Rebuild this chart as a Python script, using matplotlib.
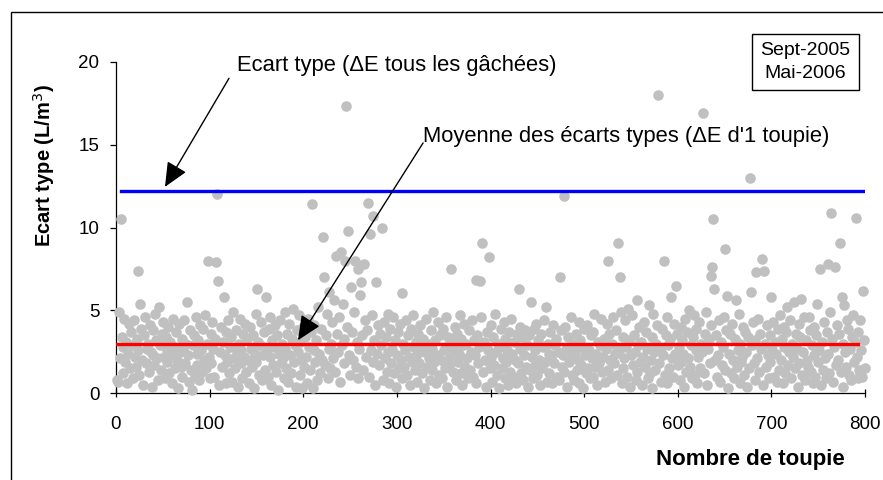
import numpy as np
import matplotlib.pyplot as plt
from matplotlib.patches import Rectangle

plt.rcParams['font.family'] = ['Liberation Sans', 'DejaVu Sans']

# Ecart type (L/m3) of each toupie, toupie n° 1 to 800
ecart = [
    0.8, 0.7, 4.9, 2.1, 10.5, 3.4, 1.2, 2.8, 4.5, 1.9,
    3.1, 0.6, 2.4, 4.2, 1.5, 3.7, 2.9, 0.9, 4.4, 2.2,
    1.6, 3.3, 7.4, 2.6, 1.1, 5.4, 3.9, 2.0, 0.5, 3.5,
    4.6, 1.8, 2.7, 3.0, 1.3, 4.1, 2.5, 0.4, 3.8, 2.3,
    1.7, 4.8, 3.2, 2.1, 0.8, 5.2, 2.9, 1.4, 3.6, 4.3,
    2.2, 0.9, 3.4, 1.9, 2.6, 4.0, 1.2, 3.1, 2.4, 0.6,
    4.5, 2.8, 1.5, 3.7, 2.0, 0.3, 4.2, 2.5, 1.6, 3.3,
    1.0, 2.7, 4.4, 1.8, 3.0, 5.5, 2.3, 0.7, 3.8, 1.4,
    0.2, 2.9, 3.5, 1.1, 4.6, 2.4, 1.7, 3.2, 0.8, 4.1,
    2.6, 1.3, 3.9, 2.0, 4.7, 1.5, 3.0, 7.95, 2.2, 0.9,
    3.6, 1.8, 4.3, 2.7, 1.0, 3.3, 7.9, 12.0, 6.8, 0.5,
    2.5, 4.0, 1.6, 3.1, 5.8, 2.3, 0.6, 3.7, 1.9, 4.4,
    1.2, 2.8, 3.4, 0.7, 4.9, 2.1, 1.5, 3.8, 2.5, 0.4,
    3.0, 4.5, 1.8, 2.6, 0.9, 3.6, 2.2, 4.2, 1.3, 3.3,
    2.0, 0.6, 4.0, 2.7, 1.6, 3.5, 0.3, 2.4, 4.8, 1.9,
    6.3, 3.1, 1.1, 2.9, 4.3, 0.8, 2.3, 3.7, 1.4, 5.8,
    2.6, 1.0, 3.9, 2.2, 4.6, 0.5, 3.2, 1.7, 2.8, 4.1,
    1.3, 3.5, 0.2, 2.4, 4.4, 1.8, 3.0, 2.1, 0.9, 4.9,
    2.7, 1.5, 3.6, 0.7, 4.2, 2.3, 1.2, 3.3, 5.1, 1.9,
    2.9, 0.4, 3.8, 2.5, 4.7, 1.1, 3.1, 2.0, 0.3, 4.0,
    1.6, 3.4, 2.2, 0.6, 4.5, 2.8, 1.4, 3.7, 11.4, 0.3,
    2.6, 4.1, 1.9, 3.2, 0.8, 5.2, 2.4, 1.2, 3.9, 2.0,
    9.4, 7.0, 1.7, 3.5, 4.8, 0.9, 2.7, 6.1, 1.5, 3.0,
    4.3, 2.1, 5.6, 1.3, 8.3, 3.6, 2.5, 4.6, 0.7, 8.5,
    2.9, 5.4, 1.8, 3.3, 8.0, 17.3, 4.0, 9.8, 2.3, 1.1,
    6.4, 3.7, 2.0, 4.9, 8.0, 1.6, 3.1, 7.5, 0.9, 2.7,
    5.9, 6.7, 3.5, 1.4, 7.8, 4.4, 2.2, 3.8, 11.5, 1.0,
    9.6, 2.6, 4.7, 1.9, 10.7, 3.2, 0.5, 6.7, 2.4, 4.1,
    1.7, 3.6, 2.9, 10.0, 0.8, 4.3, 2.1, 3.4, 1.3, 4.8,
    2.5, 0.6, 3.9, 1.8, 2.7, 4.6, 1.2, 3.2, 0.4, 2.3,
    3.7, 1.5, 4.2, 2.0, 0.9, 6.05, 3.0, 1.6, 2.6, 4.4,
    1.1, 3.5, 2.2, 0.5, 3.9, 1.9, 4.7, 2.8, 1.4, 3.1,
    2.4, 0.7, 3.6, 1.8, 4.1, 2.9, 1.2, 3.3, 0.3, 2.5,
    4.5, 1.6, 3.0, 2.1, 0.8, 3.8, 1.4, 2.7, 4.9, 1.9,
    3.2, 0.6, 2.3, 4.3, 1.1, 3.5, 2.0, 0.9, 3.9, 2.6,
    1.5, 4.6, 2.8, 0.4, 3.4, 1.7, 2.2, 7.5, 3.1, 1.3,
    2.7, 4.0, 0.8, 3.6, 1.9, 2.4, 4.7, 1.2, 3.3, 0.5,
    2.9, 4.2, 1.6, 3.0, 2.1, 0.9, 3.8, 1.4, 2.5, 4.4,
    1.0, 3.2, 2.3, 0.6, 6.85, 3.5, 1.8, 2.8, 6.8, 4.6,
    9.05, 1.3, 3.1, 2.0, 0.4, 3.7, 2.6, 8.2, 1.5, 4.1,
    2.2, 0.7, 3.4, 1.7, 4.8, 2.5, 1.1, 3.0, 0.3, 2.8,
    3.9, 1.5, 2.1, 4.3, 0.9, 3.3, 1.9, 2.6, 0.5, 3.7,
    1.3, 4.5, 2.4, 1.0, 3.1, 2.0, 0.6, 3.6, 1.8, 6.3,
    2.7, 4.0, 1.2, 3.4, 0.8, 2.3, 3.8, 1.6, 2.9, 0.4,
    3.5, 1.4, 5.5, 2.2, 0.9, 3.9, 1.7, 2.6, 4.2, 1.1,
    3.2, 2.0, 0.5, 3.6, 1.5, 2.8, 4.4, 1.9, 5.2, 0.7,
    3.0, 2.4, 1.2, 3.7, 2.1, 0.6, 4.1, 1.8, 2.9, 3.3,
    1.0, 2.5, 0.8, 7.0, 3.8, 1.6, 2.3, 11.9, 1.3, 4.0,
    2.7, 0.4, 3.4, 1.9, 2.2, 4.6, 1.1, 3.0, 0.8, 2.5,
    3.6, 1.4, 2.0, 4.3, 0.6, 3.2, 1.7, 2.8, 0.3, 3.9,
    2.3, 1.2, 4.1, 1.5, 2.6, 0.9, 3.5, 2.1, 1.0, 3.7,
    4.8, 1.6, 2.4, 0.5, 3.1, 1.8, 2.9, 4.5, 1.3, 2.2,
    3.3, 0.7, 2.7, 4.2, 8.0, 1.4, 3.6, 2.0, 0.9, 3.0,
    4.6, 1.8, 2.4, 3.8, 1.1, 9.05, 2.6, 7.0, 4.9, 0.6,
    3.4, 1.5, 2.1, 4.4, 2.8, 1.0, 5.1, 3.2, 0.4, 2.3,
    4.7, 1.7, 3.5, 2.5, 0.8, 5.6, 1.3, 2.9, 4.0, 1.9,
    3.1, 0.5, 2.2, 4.3, 1.6, 3.7, 2.7, 0.9, 5.3, 1.2,
    2.0, 3.4, 0.3, 4.8, 2.5, 1.4, 3.0, 4.1, 18.0, 1.8,
    2.6, 0.7, 3.9, 2.3, 8.0, 1.1, 3.5, 4.6, 0.6, 2.9,
    1.5, 3.3, 5.8, 2.1, 1.0, 4.2, 2.4, 6.5, 3.6, 1.7,
    2.8, 0.8, 4.0, 1.9, 3.2, 2.4, 0.4, 4.5, 1.3, 3.7,
    2.1, 5.0, 1.6, 2.9, 0.9, 3.4, 4.7, 1.1, 2.6, 3.9,
    0.6, 2.2, 4.3, 1.5, 3.0, 2.5, 16.9, 1.2, 3.6, 4.9,
    0.5, 2.7, 3.3, 1.8, 4.1, 7.1, 7.6, 10.5, 6.3, 2.0,
    3.5, 1.0, 2.3, 4.4, 0.7, 3.1, 1.7, 2.8, 4.6, 1.4,
    8.7, 3.8, 5.85, 0.3, 2.4, 3.6, 1.2, 4.2, 2.0, 0.9,
    3.3, 5.6, 1.6, 2.6, 4.8, 0.6, 3.0, 1.9, 2.2, 4.0,
    1.1, 3.7, 2.5, 0.4, 3.4, 1.5, 13.0, 6.1, 2.9, 4.3,
    1.8, 3.2, 0.8, 7.3, 2.1, 4.5, 1.3, 3.6, 2.7, 8.1,
    0.5, 7.4, 3.0, 1.6, 4.1, 2.3, 0.9, 3.5, 1.9, 5.8,
    2.6, 4.3, 1.0, 3.1, 2.4, 0.7, 3.9, 1.4, 4.7, 2.0,
    3.3, 0.6, 2.8, 4.0, 1.2, 3.7, 5.2, 1.7, 2.5, 4.4,
    0.9, 3.0, 2.2, 5.5, 1.5, 3.6, 2.7, 0.4, 4.2, 1.8,
    3.4, 5.7, 1.1, 2.5, 4.6, 0.8, 3.2, 2.0, 1.6, 4.6,
    3.8, 1.3, 2.9, 0.6, 4.0, 2.3, 1.0, 3.5, 5.4, 1.9,
    2.6, 7.5, 0.5, 3.1, 1.4, 4.3, 2.1, 0.9, 3.7, 7.8,
    2.4, 1.2, 4.9, 10.9, 3.3, 0.7, 2.8, 7.6, 1.7, 4.1,
    2.0, 3.6, 9.05, 1.3, 5.8, 0.4, 3.0, 5.3, 2.5, 1.6,
    4.4, 3.9, 1.1, 2.7, 0.8, 3.4, 4.7, 1.9, 3.1, 10.6,
    2.2, 0.9, 3.7, 1.4, 4.4, 2.6, 1.0, 6.2, 3.2, 1.5,
]
toupie = np.arange(1, len(ecart) + 1)

# reference lines
ecart_global = 12.22      # Ecart type (dE tous les gachees)
ecart_global_x = [5, 800]
moyenne_ecarts = 3.0      # Moyenne des ecarts types (dE d'1 toupie)
moyenne_x = [0, 792]

fig = plt.figure(figsize=(8.83, 4.8), dpi=100)
ax = fig.add_axes([116 / 883, 1 - 393.3 / 480, 749 / 883, 331.6 / 480])

ax.scatter(toupie, ecart, s=58, color="#c0c0c0", linewidths=0, clip_on=False, zorder=2)
ax.plot(ecart_global_x, [ecart_global] * 2, color="#0000ff", lw=2.4, zorder=3)
ax.plot(moyenne_x, [moyenne_ecarts] * 2, color="#ff0000", lw=2.4, zorder=3)

ax.set_xlim(0, 800)
ax.set_ylim(0, 20)
ax.set_xticks(range(0, 801, 100))
ax.set_yticks(range(0, 21, 5))
for s in ["top", "right"]:
    ax.spines[s].set_visible(False)
for s in ["left", "bottom"]:
    ax.spines[s].set_linewidth(0.9)
    ax.spines[s].set_zorder(1)
ax.tick_params(axis="x", direction="inout", length=6, width=0.9, pad=13, labelsize=13.5)
ax.tick_params(axis="y", direction="out", length=4, width=0.9, pad=8, labelsize=13.5)

# arrows + labels
arrow = dict(arrowstyle="-|>,head_length=1.0,head_width=0.45", mutation_scale=15,
             color="black", lw=1.0, shrinkA=0, shrinkB=0)
ax.annotate("", xy=(52.3, 12.45), xytext=(120.7, 19.0), arrowprops=arrow,
            annotation_clip=False)
ax.text(129, 19.8, "Ecart type (\u0394E tous les g\u00e2ch\u00e9es)", fontsize=15.8,
        ha="left", va="center", clip_on=False)
ax.annotate("", xy=(194.4, 3.2), xytext=(328, 15.1), arrowprops=arrow,
            annotation_clip=False)
ax.text(328, 15.5, "Moyenne des \u00e9carts types (\u0394E d'1 toupie)", fontsize=15.8,
        ha="left", va="center", clip_on=False)

# axis titles
fig.text(750 / 883, 1 - 459 / 480, "Nombre de toupie", fontsize=16, fontweight="bold",
         ha="center", va="center")
fig.text(44 / 883, 1 - 166 / 480, "Ecart type (L/m$^3$)", fontsize=14.5, fontweight="bold",
         rotation=90, ha="center", va="center")

# period box
fig.text(805.5 / 883, 1 - 62 / 480, "Sept-2005\nMai-2006", fontsize=14, ha="center",
         va="center", linespacing=1.4,
         bbox=dict(boxstyle="square,pad=0.45", fc="white", ec="black", lw=1.0))

# outer chart border
fig.patches.append(Rectangle((10.5 / 883, -0.1), 1.0, 1 - 11.5 / 480 + 0.1,
                             transform=fig.transFigure, fill=False, ec="black", lw=1.0))

fig.savefig("out.png", dpi=100)
